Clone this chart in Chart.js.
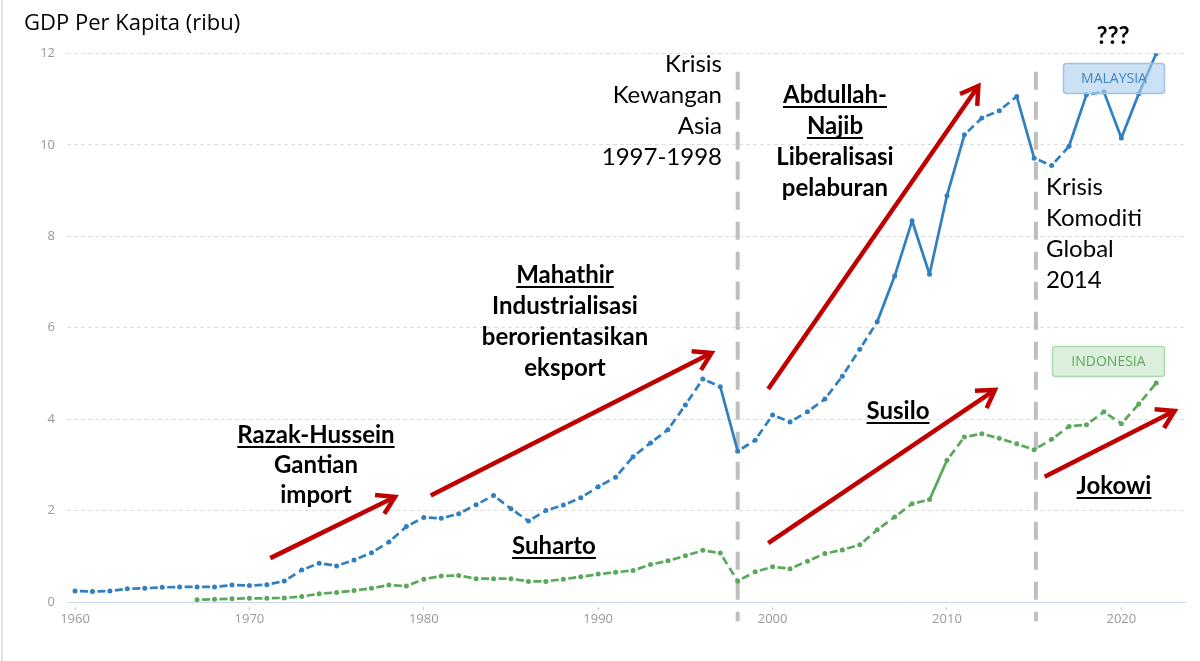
<!DOCTYPE html>
<html><head><meta charset="utf-8">
<script src="https://cdn.jsdelivr.net/npm/chart.js@4"></script>
<style>html,body{margin:0;padding:0;background:#fff;}canvas{display:block;}</style>
</head><body>
<canvas id="c" width="1200" height="661"></canvas>
<script>
// ---- data (GDP per capita, thousands USD) ----
const years = [1960,1961,1962,1963,1964,1965,1966,1967,1968,1969,
  1970,1971,1972,1973,1974,1975,1976,1977,1978,1979,
  1980,1981,1982,1983,1984,1985,1986,1987,1988,1989,
  1990,1991,1992,1993,1994,1995,1996,1997,1998,1999,
  2000,2001,2002,2003,2004,2005,2006,2007,2008,2009,
  2010,2011,2012,2013,2014,2015,2016,2017,2018,2019,
  2020,2021,2022];
const malaysia = [0.24,0.23,0.24,0.29,0.30,0.32,0.33,0.33,0.33,0.37,
  0.36,0.38,0.46,0.70,0.85,0.79,0.92,1.08,1.31,1.65,
  1.85,1.83,1.93,2.13,2.33,2.04,1.77,2.00,2.12,2.28,
  2.52,2.73,3.18,3.48,3.77,4.31,4.88,4.71,3.30,3.54,
  4.09,3.94,4.16,4.44,4.94,5.53,6.13,7.13,8.34,7.17,
  8.89,10.22,10.59,10.75,11.06,9.71,9.55,9.97,11.10,11.16,
  10.15,11.12,12.00];
const indonesia = [null,null,null,null,null,null,null,0.05,0.06,0.07,
  0.08,0.08,0.09,0.12,0.18,0.21,0.25,0.30,0.37,0.35,
  0.50,0.57,0.58,0.51,0.51,0.51,0.45,0.45,0.50,0.55,
  0.61,0.65,0.69,0.82,0.90,1.01,1.13,1.07,0.46,0.66,
  0.77,0.73,0.89,1.06,1.14,1.25,1.58,1.86,2.15,2.24,
  3.10,3.61,3.68,3.58,3.46,3.33,3.56,3.84,3.88,4.16,
  3.90,4.33,4.79];
const seriesNames = ['MALAYSIA','INDONESIA'];
const xTicks = [1960,1970,1980,1990,2000,2010,2020];
const yTicks = [0,2,4,6,8,10,12];
const crisisYears = [1998, 2015.1];
// arrows: [startYear, startValue, endYear, endValue]
const arrows = [
  [1971.2, 0.96, 1978.35, 2.30],
  [1980.4, 2.33, 1996.5, 5.45],
  [1999.75, 4.66, 2011.8, 11.29],
  [1999.75, 1.29, 2012.75, 4.64],
  [2015.6, 2.74, 2023.05, 4.18]
];

const BLUE = '#2f7fc1', GREEN = '#5aa85a', RED = '#c00000';
const ANN_FONT = 'Lato, "Open Sans", sans-serif';

function isSteep(c){
  const dx = Math.abs(c.p1.x - c.p0.x), dy = Math.abs(c.p1.y - c.p0.y);
  return dy > 1.6 * dx;
}
const segStyle = {
  borderDash: c => isSteep(c) ? [] : [8, 4.5],
  borderDashOffset: c => 7.5 + c.p0DataIndex * 0.0001
};

function drawText(ctx, text, x, y, o){
  o = o || {};
  const size = o.size || 24;
  ctx.save();
  ctx.font = (o.bold ? 'bold ' : '') + size + 'px ' + ANN_FONT;
  ctx.fillStyle = '#000';
  ctx.textAlign = o.align || 'center';
  ctx.textBaseline = 'alphabetic';
  ctx.fillText(text, x, y);
  if (o.underline){
    const w = ctx.measureText(text).width;
    let x0 = x;
    if ((o.align || 'center') === 'center') x0 = x - w/2;
    else if (o.align === 'right') x0 = x - w;
    ctx.fillRect(x0, y + 3, w, 2);
  }
  ctx.restore();
}
function roundRect(ctx, x, y, w, h, r){
  ctx.beginPath();
  ctx.moveTo(x+r, y); ctx.lineTo(x+w-r, y); ctx.quadraticCurveTo(x+w, y, x+w, y+r);
  ctx.lineTo(x+w, y+h-r); ctx.quadraticCurveTo(x+w, y+h, x+w-r, y+h);
  ctx.lineTo(x+r, y+h); ctx.quadraticCurveTo(x, y+h, x, y+h-r);
  ctx.lineTo(x, y+r); ctx.quadraticCurveTo(x, y, x+r, y);
  ctx.closePath();
}

const annPlugin = {
  id: 'ann',
  beforeDatasetsDraw(chart){
    const {ctx, scales:{x, y}} = chart;
    ctx.save();
    ctx.fillStyle = '#e3e3e3';
    ctx.fillRect(1, 0, 2, chart.height);
    ctx.strokeStyle = '#bfbfbf';
    ctx.lineWidth = 4;
    ctx.setLineDash([18, 12]);
    crisisYears.forEach(yr => {
      const px = x.getPixelForValue(yr);
      ctx.beginPath();
      ctx.moveTo(px, y.getPixelForValue(11.6));
      ctx.lineTo(px, y.getPixelForValue(-0.42));
      ctx.stroke();
    });
    ctx.restore();
  },
  afterDatasetsDraw(chart){
    const {ctx, scales:{x, y}} = chart;
    ctx.save();
    ctx.strokeStyle = RED;
    ctx.lineWidth = 4.5;
    ctx.lineJoin = 'miter';
    arrows.forEach(a => {
      const x0 = x.getPixelForValue(a[0]), y0 = y.getPixelForValue(a[1]);
      const x1 = x.getPixelForValue(a[2]), y1 = y.getPixelForValue(a[3]);
      const ang = Math.atan2(y1 - y0, x1 - x0);
      const L = 20, sp = 0.55;
      ctx.beginPath();
      ctx.moveTo(x0, y0);
      ctx.lineTo(x1 - Math.cos(ang)*3, y1 - Math.sin(ang)*3);
      ctx.stroke();
      ctx.beginPath();
      ctx.moveTo(x1 - L*Math.cos(ang - sp), y1 - L*Math.sin(ang - sp));
      ctx.lineTo(x1, y1);
      ctx.lineTo(x1 - L*Math.cos(ang + sp), y1 - L*Math.sin(ang + sp));
      ctx.stroke();
    });
    ctx.restore();

    drawText(ctx, 'Razak-Hussein', 316, 443, {bold:true, underline:true});
    drawText(ctx, 'Gantian', 316, 473, {bold:true});
    drawText(ctx, 'import', 316, 503, {bold:true});

    drawText(ctx, 'Mahathir', 565, 283, {bold:true, underline:true});
    drawText(ctx, 'Industrialisasi', 565, 314, {bold:true});
    drawText(ctx, 'berorientasikan', 565, 345, {bold:true});
    drawText(ctx, 'eksport', 565, 376, {bold:true});

    drawText(ctx, 'Krisis', 722, 72, {align:'right'});
    drawText(ctx, 'Kewangan', 722, 103, {align:'right'});
    drawText(ctx, 'Asia', 722, 134, {align:'right'});
    drawText(ctx, '1997-1998', 722, 165, {align:'right'});

    drawText(ctx, 'Abdullah-', 835, 103, {bold:true, underline:true});
    drawText(ctx, 'Najib', 835, 134, {bold:true, underline:true});
    drawText(ctx, 'Liberalisasi', 835, 165, {bold:true});
    drawText(ctx, 'pelaburan', 835, 196, {bold:true});

    drawText(ctx, 'Krisis', 1046, 195, {align:'left'});
    drawText(ctx, 'Komoditi', 1046, 226, {align:'left'});
    drawText(ctx, 'Global', 1046, 257, {align:'left'});
    drawText(ctx, '2014', 1046, 288, {align:'left'});

    drawText(ctx, 'Susilo', 898, 419, {bold:true, underline:true});
    drawText(ctx, 'Suharto', 554, 554, {bold:true, underline:true});
    drawText(ctx, 'Jokowi', 1114, 494, {bold:true, underline:true});
    drawText(ctx, '???', 1113, 44, {bold:true});

    const boxes = [
      {t: seriesNames[0], x:1063, y:63, w:101, h:30, fill:'rgba(170,205,236,0.6)', stroke:'#9fc3e6', color:'#3f86c4'},
      {t: seriesNames[1], x:1052, y:346, w:112, h:30, fill:'rgba(205,232,205,0.7)', stroke:'#addaad', color:'#62a862'}
    ];
    boxes.forEach(b => {
      ctx.save();
      roundRect(ctx, b.x + 0.5, b.y + 0.5, b.w, b.h, 3);
      ctx.fillStyle = b.fill; ctx.fill();
      ctx.strokeStyle = b.stroke; ctx.lineWidth = 1.5; ctx.stroke();
      ctx.font = '14px "Open Sans", sans-serif';
      ctx.fillStyle = b.color;
      ctx.textAlign = 'center'; ctx.textBaseline = 'middle';
      ctx.fillText(b.t, b.x + b.w/2 + 0.5, b.y + b.h/2 + 1);
      ctx.restore();
    });
  }
};

new Chart(document.getElementById('c'), {
  type: 'line',
  data: {
    datasets: [
      {
        label: seriesNames[0],
        data: years.map((yr, i) => ({x: yr, y: malaysia[i]})),
        borderColor: BLUE, backgroundColor: BLUE,
        borderWidth: 2.7, pointRadius: 2.5, pointBorderWidth: 0,
        pointBackgroundColor: BLUE, tension: 0, segment: segStyle
      },
      {
        label: seriesNames[1],
        data: years.map((yr, i) => ({x: yr, y: indonesia[i]})),
        borderColor: GREEN, backgroundColor: GREEN,
        borderWidth: 2.7, pointRadius: 2.5, pointBorderWidth: 0,
        pointBackgroundColor: GREEN, tension: 0, segment: segStyle
      }
    ]
  },
  options: {
    responsive: false,
    animation: false,
    devicePixelRatio: 1,
    layout: { padding: { top: 10.5, left: 24, right: 15, bottom: 0 } },
    plugins: {
      legend: { display: false },
      tooltip: { enabled: false },
      title: {
        display: true, text: 'GDP Per Kapita (ribu)', align: 'start',
        color: '#000', font: { family: '"Open Sans", sans-serif', size: 22, weight: 'normal' },
        padding: { top: 0, bottom: 16.6 }
      }
    },
    scales: {
      x: {
        type: 'linear', min: 1959.54, max: 2023.65,
        afterBuildTicks: s => { s.ticks = xTicks.map(v => ({value: v})); },
        afterFit: s => { s.height = 59; },
        grid: { display: true, drawOnChartArea: false, drawTicks: true, tickLength: 8,
                tickColor: '#c8c8c8', tickWidth: 1, tickBorderDash: [0, 4, 4, 50] },
        border: { display: true, color: '#ccd6eb', width: 1 },
        ticks: { color: '#999', padding: 1, maxRotation: 0,
                 font: { family: '"Open Sans", sans-serif', size: 13 },
                 callback: v => String(v) }
      },
      y: {
        min: 0, max: 12,
        afterBuildTicks: s => { s.ticks = yTicks.map(v => ({value: v})); },
        afterFit: s => { s.width = 43; },
        grid: { color: c => c.tick && c.tick.value === 0 ? 'rgba(0,0,0,0)' : '#dedede',
                drawTicks: false, lineWidth: 1 },
        border: { display: false, dash: [4, 3] },
        ticks: { color: '#999', padding: 12,
                 font: { family: '"Open Sans", sans-serif', size: 13 } }
      }
    }
  },
  plugins: [annPlugin]
});
</script>
</body></html>
